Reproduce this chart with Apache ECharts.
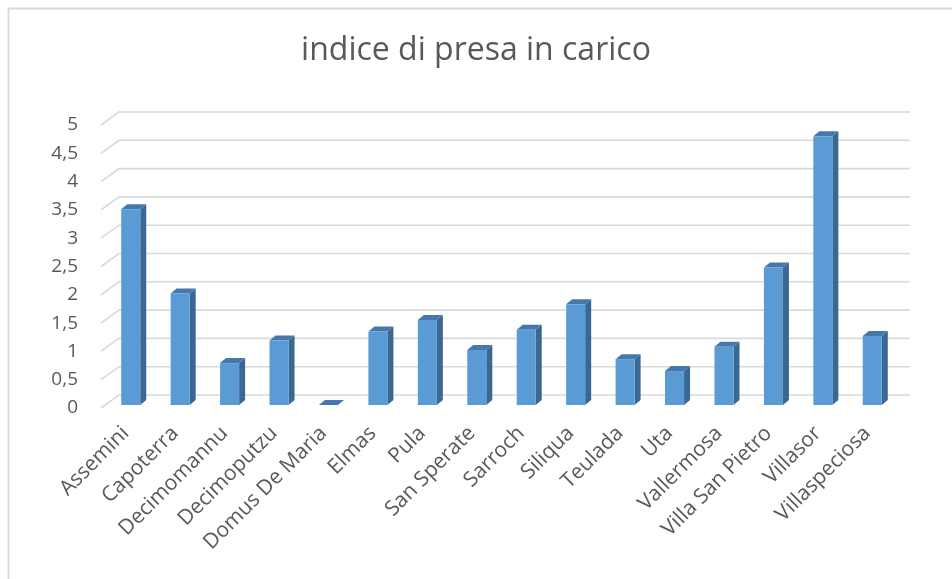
<!DOCTYPE html>
<html>
<head>
<meta charset="utf-8">
<script src="https://cdn.jsdelivr.net/npm/echarts@6/dist/echarts.min.js"></script>
<style>
  html, body { margin: 0; padding: 0; background: #fff; }
  #chart { width: 952px; height: 579px; }
</style>
</head>
<body>
<div id="chart"></div>
<script>
// Comuni and their "indice di presa in carico"
const comuni = ['Assemini', 'Capoterra', 'Decimomannu', 'Decimoputzu', 'Domus De Maria',
  'Elmas', 'Pula', 'San Sperate', 'Sarroch', 'Siliqua', 'Teulada', 'Uta',
  'Vallermosa', 'Villa San Pietro', 'Villasor', 'Villaspeciosa'];
const indice = [3.46, 1.97, 0.74, 1.14, 0, 1.30, 1.50, 0.97, 1.33, 1.78, 0.81, 0.60,
  1.03, 2.43, 4.75, 1.22];
// Value-axis ticks (also used to draw the back-wall gridlines)
const yTicks = [0, 0.5, 1, 1.5, 2, 2.5, 3, 3.5, 4, 4.5, 5];

const FONT = '"Open Sans", "Noto Sans", sans-serif';
const TEXT = '#595959';
// depth of the back wall and of each column (pseudo-3D look)
const WALL_DX = 18, WALL_DY = -13;
const BAR_DX = 6, BAR_DY = -5;
const BAR_SHIFT_X = 5, BAR_SHIFT_Y = -3;

const chart = echarts.init(document.getElementById('chart'));

function renderGridline(params, api) {
  const cs = params.coordSys;
  const p = api.coord([0, api.value(1)]);
  return {
    type: 'polyline',
    shape: { points: [
      [cs.x, p[1]],
      [cs.x + WALL_DX, p[1] + WALL_DY],
      [cs.x + cs.width + WALL_DX, p[1] + WALL_DY]
    ] },
    style: { stroke: '#D9D9D9', lineWidth: 1.6, fill: null },
    silent: true
  };
}

function renderColumn(params, api) {
  const i = api.value(0);
  const top = api.coord([i, api.value(1)]);
  const base = api.coord([i, 0]);
  const band = api.size([1, 0])[0];
  const w = band * 0.385;
  const xl = top[0] - w / 2 + BAR_SHIFT_X;
  const xr = xl + w;
  const yt = top[1] + BAR_SHIFT_Y;
  const yb = base[1] + BAR_SHIFT_Y;
  return {
    type: 'group',
    children: [
      { type: 'polygon', shape: { points: [[xr, yt], [xr + BAR_DX, yt + BAR_DY], [xr + BAR_DX, yb + BAR_DY], [xr, yb]] },
        style: { fill: '#3B6793' } },
      { type: 'polygon', shape: { points: [[xl, yt], [xr, yt], [xr + BAR_DX, yt + BAR_DY], [xl + BAR_DX, yt + BAR_DY]] },
        style: { fill: '#4778AC' } },
      { type: 'rect', shape: { x: xl, y: yt, width: w, height: yb - yt },
        style: { fill: '#5B9BD5' } }
    ]
  };
}

chart.setOption({
  animation: false,
  backgroundColor: '#ffffff',
  textStyle: { fontFamily: FONT },
  graphic: [{
    type: 'rect', left: 6, top: 6, silent: true,
    shape: { x: 0, y: 0, width: 1000, height: 1000 },
    style: { fill: null, stroke: '#D9D9D9', lineWidth: 2 }
  }],
  title: {
    text: 'indice di presa in carico',
    left: 'center', top: 30,
    textStyle: { fontFamily: FONT, fontSize: 32, fontWeight: 'normal', color: TEXT }
  },
  grid: { left: 101, right: 60, top: 125, bottom: 171 },
  xAxis: {
    type: 'category',
    data: comuni,
    axisLine: { show: false },
    axisTick: { show: false },
    axisLabel: { rotate: 45, interval: 0, margin: 22, color: TEXT, fontSize: 21, fontFamily: FONT }
  },
  yAxis: {
    type: 'value',
    min: 0, max: 5, interval: 0.5,
    axisLine: { show: false },
    axisTick: { show: false },
    splitLine: { show: false },
    axisLabel: {
      margin: 23, color: TEXT, fontSize: 19, fontFamily: FONT,
      formatter: v => String(v).replace('.', ',')
    }
  },
  series: [
    {
      type: 'custom', z: 1,
      renderItem: renderGridline,
      encode: { x: 0, y: 1 },
      data: yTicks.map(t => [0, t])
    },
    {
      type: 'custom', z: 2,
      renderItem: renderColumn,
      encode: { x: 0, y: 1 },
      data: indice.map((v, i) => [i, v])
    }
  ]
});
</script>
</body>
</html>
